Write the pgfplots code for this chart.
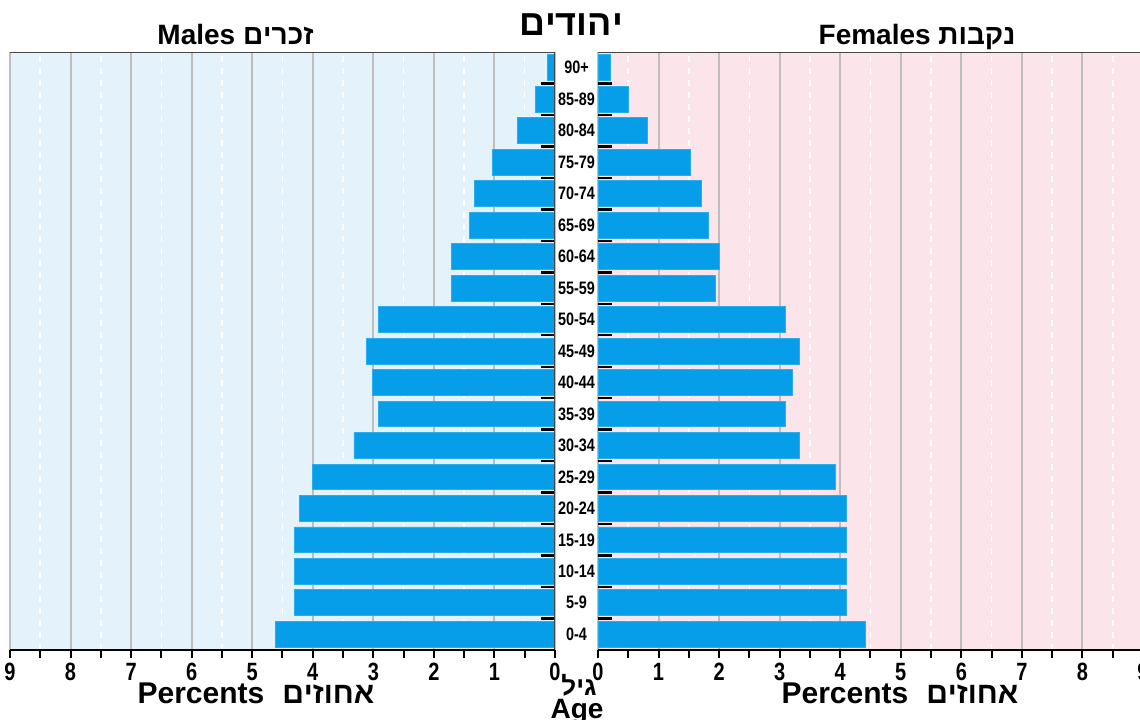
\documentclass[border=0pt]{standalone}
\usepackage{fontspec}
\setmainfont{Liberation Sans}
\newfontfamily\narrow[FakeStretch=0.8]{Liberation Sans}
\usepackage{pgfplots}
\pgfplotsset{compat=1.18}
\TeXXeTstate=1
\definecolor{barblue}{RGB}{6,158,233}
\definecolor{bgblue}{RGB}{228,243,251}
\definecolor{bgpink}{RGB}{251,228,234}
\definecolor{gridgray}{RGB}{190,190,190}
\definecolor{framegray}{RGB}{70,70,70}
\pgfplotsset{pyr/.style={
  scale only axis, width=272.5pt, height=299pt,
  xmin=0, xmax=9, ymin=-0.5, ymax=18.5,
  xbar, bar width=12.9pt,
  xtick={0,...,9}, minor xtick={0.5,1.5,...,8.5},
  xtick pos=left, xtick align=outside, ytick align=inside,
  major tick length=4pt, minor tick length=4pt,
  x tick style={black, line width=1pt},
  y tick style={draw=none},
  xmajorgrids, xminorgrids,
  major grid style={gridgray, line width=1pt},
  minor grid style={white, dashed, line width=0.8pt},
  axis line style={draw=none},
  /pgf/number format/assume math mode=true,
  xticklabel style={font=\narrow\bfseries\fontsize{12.5}{12.5}\selectfont, yshift=1pt},
}}
\begin{document}
\begin{tikzpicture}
% left: males
\begin{axis}[pyr, at={(5pt,-26pt)}, anchor=north west, x dir=reverse,
  ytick=\empty, axis background/.style={fill=bgblue}]
\addplot[fill=barblue, draw=barblue!85!white] coordinates {
(4.61,0) (4.30,1) (4.30,2) (4.30,3) (4.22,4) (4.00,5) (3.32,6) (2.91,7) (3.02,8) (3.12,9)
(2.91,10) (1.71,11) (1.71,12) (1.41,13) (1.33,14) (1.03,15) (0.62,16) (0.32,17) (0.12,18)};
\pgfplotsinvokeforeach{0,...,17}{\draw[black, line width=1.2pt] (axis cs:0,#1+0.5) -- ([xshift=-7pt]axis cs:0,#1+0.5);}
\draw[framegray, line width=1pt] (rel axis cs:0,1) -- (rel axis cs:1,1) -- (rel axis cs:1,0);
\draw[black, line width=1.5pt] (rel axis cs:1,0) -- (rel axis cs:0,0);
\end{axis}
% right: females
\begin{axis}[pyr, at={(299pt,-26pt)}, anchor=north west,
  ytick={0,...,18}, ytick pos=left,
  yticklabels={0-4,5-9,10-14,15-19,20-24,25-29,30-34,35-39,40-44,45-49,50-54,55-59,60-64,65-69,70-74,75-79,80-84,85-89,90+},
  yticklabel style={font=\narrow\bfseries\fontsize{9}{9}\selectfont, anchor=center, xshift=-10.75pt},
  axis background/.style={fill=bgpink}]
\addplot[fill=barblue, draw=barblue!85!white] coordinates {
(4.42,0) (4.11,1) (4.11,2) (4.11,3) (4.11,4) (3.92,5) (3.32,6) (3.10,7) (3.21,8) (3.32,9)
(3.10,10) (1.94,11) (2.01,12) (1.83,13) (1.71,14) (1.52,15) (0.81,16) (0.51,17) (0.21,18)};
\pgfplotsinvokeforeach{0,...,17}{\draw[black, line width=1.2pt] (axis cs:0,#1+0.5) -- ([xshift=7pt]axis cs:0,#1+0.5);}
\draw[framegray, line width=1pt] (rel axis cs:0,1) -- (rel axis cs:1,1);
\draw[black, line width=1.5pt] (rel axis cs:0,0) -- (rel axis cs:1,0);
\end{axis}
% titles
\node[anchor=base, font=\bfseries\fontsize{14}{14}\selectfont] at (117.75pt,-22pt) {Males \beginR זכרים\endR};
\node[anchor=base, font=\bfseries\fontsize{14}{14}\selectfont] at (458.5pt,-22pt) {Females \beginR נקבות\endR};
\node[anchor=base, font=\bfseries\fontsize{18}{18}\selectfont] at (285.5pt,-17.5pt) {\beginR יהודים\endR};
\node[anchor=base, font=\bfseries\fontsize{15}{15}\selectfont] at (128pt,-351.5pt) {Percents\hspace{0.6em}\beginR אחוזים\endR};
\node[anchor=base, font=\bfseries\fontsize{15}{15}\selectfont] at (450pt,-351.5pt) {Percents\hspace{0.6em}\beginR אחוזים\endR};
\node[anchor=base, font=\bfseries\fontsize{13}{13}\selectfont] at (289.5pt,-347.5pt) {\beginR גיל\endR};
\node[anchor=base, font=\bfseries\fontsize{14}{14}\selectfont] at (288.5pt,-359pt) {Age};
\pgfresetboundingbox
\useasboundingbox (0,0) rectangle (570pt,-359.5pt);
\end{tikzpicture}
\end{document}
